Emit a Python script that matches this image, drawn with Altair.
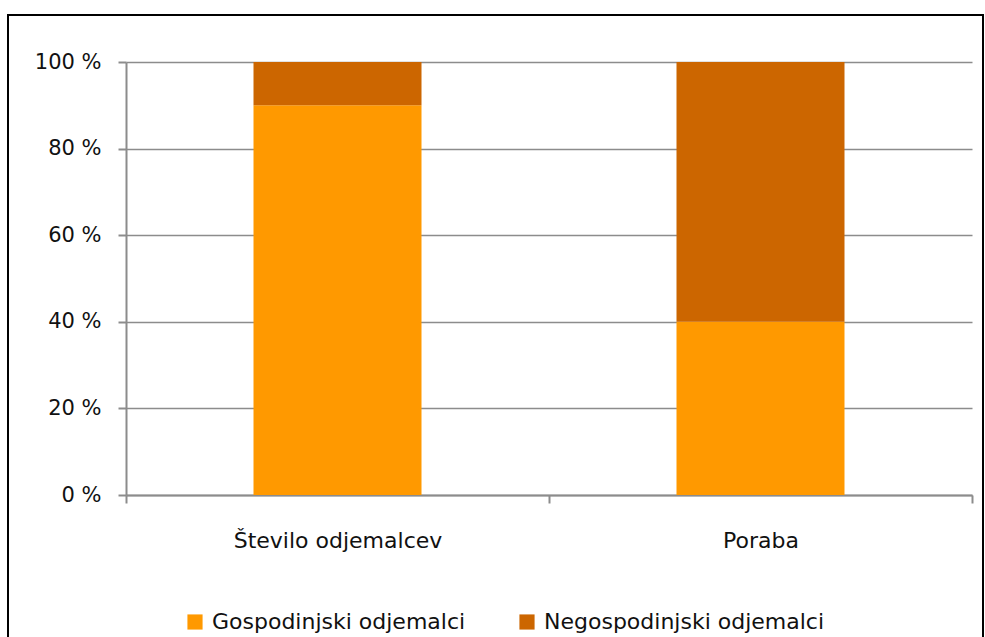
import altair as alt
import pandas as pd

categories = ["Število odjemalcev", "Poraba"]
series = ["Gospodinjski odjemalci", "Negospodinjski odjemalci"]
household = [90, 40]
non_household = [10, 60]
colors = ["#FF9900", "#CC6600"]

rows = []
for i, cat in enumerate(categories):
    rows.append({"kategorija": cat, "skupina": series[0], "delez": household[i], "red": 0})
    rows.append({"kategorija": cat, "skupina": series[1], "delez": non_household[i], "red": 1})
df = pd.DataFrame(rows)

FONT = "DejaVu Sans"
W, H = 846, 433

bars = alt.Chart(df).mark_bar(width=168).encode(
    x=alt.X(
        "kategorija:N",
        sort=categories,
        title=None,
        scale=alt.Scale(paddingInner=0, paddingOuter=0),
        axis=alt.Axis(
            labelAngle=0,
            tickBand="extent",
            labelFontSize=22,
            labelFont=FONT,
            labelColor="#111111",
            labelLimit=0,
            labelPadding=27,
            tickSize=8,
            tickColor="#8c8c8c",
            tickWidth=2,
            domainColor="#8c8c8c",
            domainWidth=2,
            grid=False,
        ),
    ),
    y=alt.Y(
        "delez:Q",
        stack="normalize",
        title=None,
        scale=alt.Scale(domain=[0, 1], nice=False),
        axis=alt.Axis(
            values=[0, 0.2, 0.4, 0.6, 0.8, 1.0],
            labelExpr="format(datum.value * 100, 'd') + ' %'",
            labelFontSize=21,
            labelFont=FONT,
            labelColor="#111111",
            labelPadding=17,
            tickSize=8,
            tickColor="#8c8c8c",
            tickWidth=2,
            domainColor="#8c8c8c",
            domainWidth=2,
            grid=True,
            gridColor="#8c8c8c",
            gridWidth=1.5,
        ),
    ),
    color=alt.Color(
        "skupina:N",
        sort=series,
        scale=alt.Scale(domain=series, range=colors),
        legend=alt.Legend(
            title=None,
            orient="none",
            legendX=58,
            legendY=549,
            direction="horizontal",
            symbolType="square",
            symbolSize=230,
            symbolStrokeWidth=0,
            symbolOpacity=1,
            labelFont=FONT,
            labelFontSize=22,
            labelColor="#111111",
            labelOffset=6,
            labelLimit=0,
            columnPadding=50,
        ),
    ),
    order=alt.Order("red:Q", sort="ascending"),
)

# outer chart frame
frame = alt.Chart(pd.DataFrame({"f": [0]})).mark_rect(
    fill=None, stroke="#000000", strokeWidth=2
).encode(
    x=alt.value(-118), x2=alt.value(857),
    y=alt.value(-47), y2=alt.value(H + 160),
)

chart = alt.layer(bars, frame).properties(
    width=W,
    height=H,
    autosize=alt.AutoSizeParams(type="none"),
    padding={"left": 126, "top": 62, "right": 13, "bottom": 142},
    background="#ffffff",
).configure_view(stroke=None)

chart.save("out.html", embed_options={"renderer": "svg", "actions": False})
